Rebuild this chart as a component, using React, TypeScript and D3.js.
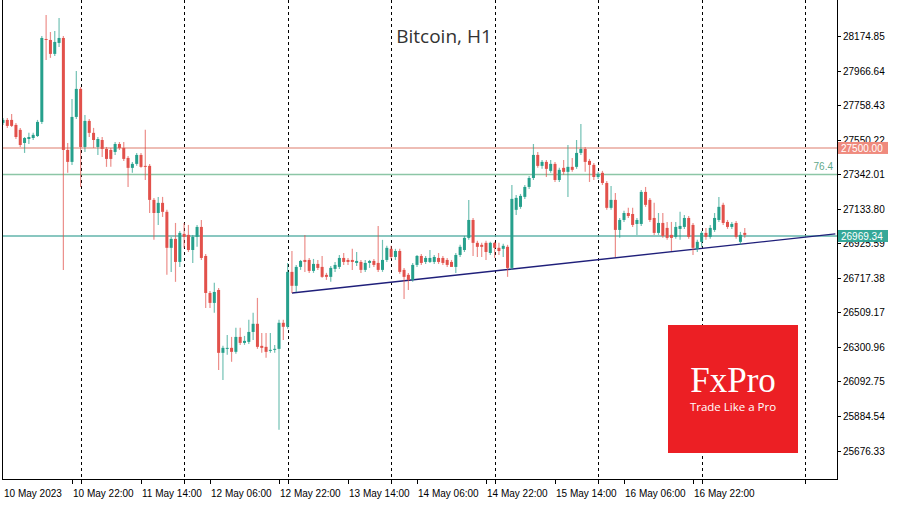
import React from "react";
import * as d3 from "d3";

const W = 900;
const H = 506;

const startTime = "2023-05-10T06:00:00Z";

const opens = [
  27651, 27669, 27669, 27639, 27609, 27530, 27554, 27560, 27572, 27657,
  28157, 28151, 28067, 28133, 28163, 27488, 27416, 27687, 27856, 27506,
  27663, 27591, 27506, 27548, 27494, 27488, 27476, 27524, 27500, 27440,
  27380, 27404, 27458, 27392, 27392, 27187, 27108, 27169, 27115, 26898,
  26952, 26813, 26982, 26976, 26885, 26964, 27024, 26849, 26626, 26566,
  26644, 26265, 26289, 26295, 26271, 26361, 26325, 26331, 26391, 26440,
  26307, 26301, 26277, 26283, 26289, 26446, 26422, 26753, 26669, 26783,
  26825, 26825, 26759, 26801, 26783, 26735, 26723, 26771, 26783, 26837,
  26825, 26825, 26807, 26813, 26765, 26807, 26819, 26807, 26765, 26825,
  26892, 26843, 26879, 26765, 26735, 26705, 26795, 26849, 26813, 26813,
  26813, 26837, 26837, 26825, 26813, 26783, 26855, 26885, 26958, 27066,
  26928, 26916, 26928, 26867, 26928, 26898, 26892, 26904, 26777, 27127,
  27145, 27205, 27265, 27319, 27458, 27392, 27416, 27362, 27404, 27307,
  27380, 27356, 27386, 27386, 27470, 27494, 27422, 27398, 27325, 27350,
  27289, 27139, 27187, 27006, 27066, 27108, 27102, 27042, 27042, 27235,
  27187, 27078, 26988, 27048, 27018, 26976, 26964, 27012, 27024, 27078,
  27036, 26892, 26934, 26988, 26964, 27006, 27066, 27157, 27054, 27024,
  27048, 26934, 26988,
];

const highs = [
  27681, 27681, 27705, 27651, 27621, 27566, 27591, 27591, 27669, 28175,
  28302, 28199, 28205, 28283, 28175, 27530, 27795, 27964, 27868, 27699,
  27675, 27621, 27566, 27566, 27506, 27500, 27536, 27536, 27536, 27452,
  27416, 27470, 27470, 27609, 27404, 27199, 27205, 27205, 27127, 26964,
  27048, 27000, 27048, 27036, 26976, 27036, 27066, 26861, 26638, 26687,
  26656, 26307, 26373, 26361, 26416, 26416, 26367, 26464, 26506, 26596,
  26385, 26385, 26385, 26313, 26464, 26464, 26807, 26879, 26795, 26825,
  26976, 26837, 26831, 26825, 26849, 26747, 26789, 26813, 26855, 26867,
  26837, 26892, 26873, 26825, 26825, 26825, 26831, 27030, 26946, 26910,
  26910, 26892, 26892, 26777, 26747, 26807, 26855, 26861, 26849, 26885,
  26855, 26867, 26849, 26837, 26825, 26867, 26916, 26970, 27187, 27078,
  26940, 26928, 26940, 26934, 26934, 26928, 26922, 26916, 27277, 27217,
  27223, 27277, 27331, 27524, 27476, 27428, 27428, 27428, 27416, 27380,
  27428, 27518, 27440, 27548, 27645, 27506, 27434, 27410, 27356, 27362,
  27301, 27271, 27229, 27078, 27121, 27139, 27139, 27078, 27247, 27265,
  27199, 27169, 27108, 27108, 27054, 27054, 27054, 27115, 27096, 27090,
  27048, 26946, 27000, 27018, 27036, 27108, 27205, 27169, 27066, 27054,
  27060, 26994, 27018,
];

const lows = [
  27639, 27621, 27627, 27554, 27506, 27470, 27524, 27548, 27566, 27645,
  28030, 28043, 28055, 28109, 26765, 27350, 27398, 27675, 27265, 27476,
  27566, 27500, 27458, 27446, 27386, 27386, 27458, 27488, 27422, 27265,
  27350, 27392, 27380, 27307, 27108, 26946, 27036, 27084, 26735, 26753,
  26693, 26783, 26898, 26873, 26807, 26904, 26825, 26536, 26536, 26506,
  26162, 26102, 26253, 26211, 26259, 26313, 26313, 26319, 26343, 26289,
  26265, 26235, 26265, 26265, 25801, 26343, 26410, 26626, 26632, 26765,
  26753, 26747, 26747, 26765, 26717, 26705, 26693, 26753, 26771, 26795,
  26795, 26765, 26789, 26747, 26753, 26777, 26783, 26753, 26753, 26813,
  26831, 26825, 26741, 26590, 26644, 26693, 26783, 26795, 26801, 26807,
  26801, 26801, 26795, 26783, 26783, 26747, 26843, 26873, 26946, 26849,
  26843, 26843, 26825, 26855, 26837, 26855, 26843, 26723, 26765, 27096,
  27133, 27193, 27253, 27307, 27380, 27374, 27325, 27350, 27295, 27295,
  27338, 27205, 27356, 27374, 27458, 27356, 27295, 27307, 27313, 27277,
  27127, 27127, 26843, 26958, 27054, 27078, 27024, 26976, 27030, 27145,
  27054, 26976, 26976, 26958, 26946, 26879, 26952, 26946, 27012, 26952,
  26855, 26873, 26904, 26946, 26952, 26994, 27054, 27036, 27012, 27012,
  26952, 26916, 26958,
];

const closes = [
  27669, 27633, 27633, 27566, 27518, 27560, 27566, 27579, 27657, 28163,
  28151, 28067, 28139, 28163, 27488, 27416, 27687, 27856, 27506, 27663,
  27591, 27548, 27554, 27494, 27434, 27434, 27524, 27500, 27434, 27380,
  27404, 27458, 27386, 27386, 27187, 27108, 27169, 27115, 26898, 26952,
  26813, 26988, 26964, 26885, 26964, 27024, 26837, 26626, 26566, 26632,
  26265, 26295, 26295, 26271, 26361, 26325, 26337, 26391, 26440, 26301,
  26295, 26271, 26283, 26289, 26446, 26422, 26753, 26669, 26783, 26819,
  26813, 26759, 26801, 26777, 26723, 26723, 26777, 26795, 26837, 26813,
  26813, 26813, 26819, 26765, 26807, 26819, 26795, 26765, 26825, 26898,
  26843, 26879, 26753, 26723, 26705, 26795, 26849, 26807, 26837, 26837,
  26843, 26813, 26807, 26795, 26783, 26855, 26904, 26958, 27066, 26928,
  26904, 26904, 26873, 26928, 26898, 26879, 26910, 26777, 27193, 27199,
  27211, 27265, 27319, 27458, 27392, 27416, 27374, 27404, 27307, 27368,
  27356, 27386, 27368, 27470, 27494, 27416, 27398, 27325, 27344, 27289,
  27139, 27187, 27006, 27066, 27108, 27090, 27036, 27066, 27235, 27157,
  27066, 26988, 27048, 26970, 26958, 26958, 27024, 27030, 27078, 26964,
  26898, 26934, 26988, 26964, 27018, 27078, 27145, 27048, 27024, 27042,
  26964, 26976, 26976,
];

const yTickValues = [
  28174.85, 27966.64, 27758.43, 27550.22, 27342.01, 27133.8, 26925.59,
  26717.38, 26509.17, 26300.96, 26092.75, 25884.54, 25676.33,
];

const xTickTimes = [
  "2023-05-10T06:00:00Z", "2023-05-10T22:00:00Z", "2023-05-11T14:00:00Z",
  "2023-05-12T06:00:00Z", "2023-05-12T22:00:00Z", "2023-05-13T14:00:00Z",
  "2023-05-14T06:00:00Z", "2023-05-14T22:00:00Z", "2023-05-15T14:00:00Z",
  "2023-05-16T06:00:00Z", "2023-05-16T22:00:00Z",
];
const xTickLabels = [
  "10 May 2023", "10 May 22:00", "11 May 14:00", "12 May 06:00", "12 May 22:00",
  "13 May 14:00", "14 May 06:00", "14 May 22:00", "15 May 14:00", "16 May 06:00",
  "16 May 22:00",
];

const resistanceLevel = 27500.0;
const fibLevel = 27340;
const fibLabel = "76.4";
const currentPrice = 26969.34;

const trendTimes = ["2023-05-13T01:00:00Z", "2023-05-18T07:00:00Z"];
const trendPrices = [26626, 26982];

const GREEN = "#26a08c";
const RED = "#e2514b";

export default function App() {
  const start = new Date(startTime);
  const end = d3.utcHour.offset(start, 192);
  const plotL = 2;
  const plotR = 837;
  const plotT = 0;
  const plotB = 479;

  const x = d3.scaleUtc().domain([start, end]).range([3, 831]);
  const y = d3
    .scaleLinear()
    .domain([25676.33, 28174.85])
    .range([450.5, 36]);

  const candles = opens.map((o, i) => ({
    t: d3.utcHour.offset(start, i),
    o,
    h: highs[i],
    l: lows[i],
    c: closes[i],
  }));

  const dayLines = d3.utcDay.range(d3.utcHour.offset(start, 1), end);
  const fmt = d3.format(".2f");
  const bodyW = 3;

  const trendLine = d3
    .line<[Date, number]>()
    .x((d) => x(d[0]))
    .y((d) => y(d[1]));
  const trendPts: [Date, number][] = trendTimes.map((t, i) => [new Date(t), trendPrices[i]]);

  const labelFont = "'Liberation Sans', Arial, sans-serif";

  return (
    <svg
      width={W}
      height={H}
      style={{ position: "absolute", left: 0, top: 0, background: "#fff" }}
    >
      <defs>
        <clipPath id="plot">
          <rect x={plotL} y={plotT} width={plotR - plotL} height={plotB - plotT} />
        </clipPath>
      </defs>
      <rect x={0} y={0} width={W} height={H} fill="#fff" />

      <g clipPath="url(#plot)">
        {dayLines.map((d, i) => (
          <line
            key={"d" + i}
            x1={Math.round(x(d)) + 0.5}
            x2={Math.round(x(d)) + 0.5}
            y1={plotT}
            y2={plotB}
            stroke="#000"
            strokeWidth={1}
            strokeDasharray="3,3"
          />
        ))}

        <line x1={plotL} x2={plotR} y1={y(resistanceLevel)} y2={y(resistanceLevel)} stroke="#e9a79c" strokeWidth={1.6} />
        <line x1={plotL} x2={plotR} y1={y(fibLevel)} y2={y(fibLevel)} stroke="#8cc6a6" strokeWidth={1.6} />
        <line x1={plotL} x2={plotR} y1={y(currentPrice)} y2={y(currentPrice)} stroke="#62b5ab" strokeWidth={1.4} />

        <path d={trendLine(trendPts) || ""} stroke="#1f1f7a" strokeWidth={1.4} fill="none" />

        {candles.map((d, i) => {
          const cx = x(d.t);
          const up = d.c >= d.o;
          const col = up ? GREEN : RED;
          const top = y(Math.max(d.o, d.c));
          const bot = y(Math.min(d.o, d.c));
          return (
            <g key={"c" + i}>
              <line x1={cx} x2={cx} y1={y(d.h)} y2={y(d.l)} stroke={col} strokeOpacity={0.65} strokeWidth={1.2} />
              <rect x={cx - bodyW / 2} y={top} width={bodyW} height={Math.max(1, bot - top)} fill={col} />
            </g>
          );
        })}

        <text x={833} y={170} textAnchor="end" fontFamily={labelFont} fontSize={10} fill="#5fa88a">
          {fibLabel}
        </text>

        <g>
          <rect x={668} y={325} width={130} height={128} fill="#ec1f24" />
          <text x={733} y={392} textAnchor="middle" fontFamily="'Liberation Serif', 'DejaVu Serif', serif" fontSize={35} fill="#fff">
            FxPro
          </text>
          <text x={733} y={411} textAnchor="middle" fontFamily="'Open Sans', 'Liberation Sans', sans-serif" fontSize={11.5} fill="#fff">
            Trade Like a Pro
          </text>
        </g>
      </g>

      <text x={444} y={43} textAnchor="middle" fontFamily="'Open Sans', 'Noto Sans', sans-serif" fontSize={19} fill="#333">
        Bitcoin, H1
      </text>

      {/* frame */}
      <line x1={plotL + 0.5} x2={plotL + 0.5} y1={plotT} y2={plotB} stroke="#000" />
      <line x1={plotL} x2={plotR} y1={plotB + 0.5} y2={plotB + 0.5} stroke="#000" />
      <line x1={plotR + 0.5} x2={plotR + 0.5} y1={plotT} y2={plotB + 1} stroke="#000" />

      {/* y axis */}
      {yTickValues.map((v, i) => (
        <g key={"y" + i}>
          <line x1={plotR} x2={plotR + 4} y1={Math.round(y(v)) + 0.5} y2={Math.round(y(v)) + 0.5} stroke="#000" />
          <text x={843} y={y(v) + 4} fontFamily={labelFont} fontSize={10} fill="#000">
            {fmt(v)}
          </text>
        </g>
      ))}

      {/* price tags */}
      <rect x={838} y={y(resistanceLevel) - 6} width={50} height={12} fill="#ef8a7d" />
      <text x={841} y={y(resistanceLevel) + 4} fontFamily={labelFont} fontSize={10} fill="#fff">
        {fmt(resistanceLevel)}
      </text>
      <rect x={838} y={y(currentPrice) - 6} width={50} height={12} fill="#35a898" />
      <text x={841} y={y(currentPrice) + 4} fontFamily={labelFont} fontSize={10} fill="#fff">
        {fmt(currentPrice)}
      </text>

      {/* x axis */}
      {dayLines.map((d, i) => (
        <line key={"dt" + i} x1={Math.round(x(d)) + 0.5} x2={Math.round(x(d)) + 0.5} y1={plotB} y2={plotB + 5} stroke="#000" />
      ))}
      {xTickTimes.map((t, i) => {
        const xx = Math.round(x(new Date(t))) + 0.5;
        return (
          <g key={"x" + i}>
            {i > 0 && <line x1={xx} x2={xx} y1={plotB} y2={plotB + 5} stroke="#000" />}
            <text x={xx + 0.5} y={497} fontFamily={labelFont} fontSize={10} fill="#000">
              {xTickLabels[i]}
            </text>
          </g>
        );
      })}
    </svg>
  );
}
